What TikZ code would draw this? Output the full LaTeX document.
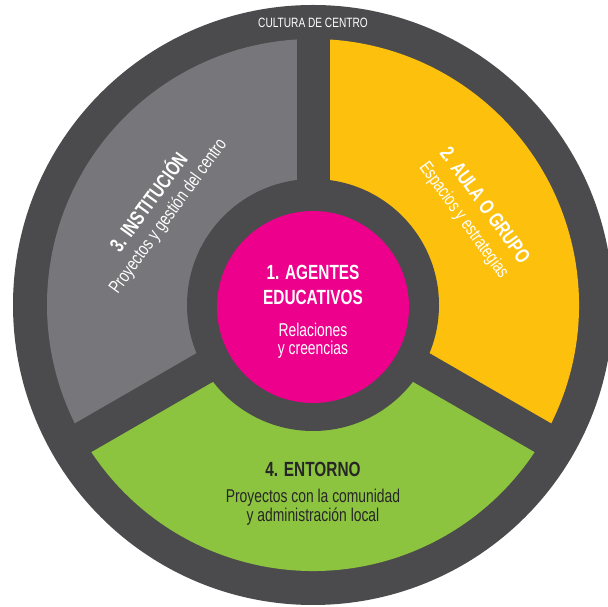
\documentclass[tikz,border=0pt]{standalone}
\usepackage{fontspec}
\setmainfont[FakeStretch=0.75]{Liberation Sans}
\definecolor{ringc}{HTML}{4B4B4D}
\definecolor{instc}{HTML}{77767A}
\definecolor{aulac}{HTML}{FDC10D}
\definecolor{entoc}{HTML}{8DC43F}
\definecolor{agenc}{HTML}{EC008C}
\definecolor{darktext}{HTML}{262626}
\tikzset{
  title/.style={inner sep=0pt, font=\bfseries\fontsize{20.5}{24}\selectfont},
  sub/.style={inner sep=0pt, font=\fontsize{18.5}{22}\selectfont},
  small/.style={inner sep=0pt, font=\fontsize{13.5}{15}\selectfont}
}
\begin{document}
\begin{tikzpicture}[x=1pt,y=1pt]
\useasboundingbox (0,0) rectangle (608,607);
\clip (0,0) rectangle (608,607);
\coordinate (C) at (313,302);
% outer ring
\fill[ringc] (C) circle (300);
% sectors
\fill[instc] (C) -- ++(90:266) arc (90:210:266) -- cycle;
\fill[aulac] (C) -- ++(-30:266) arc (-30:90:266) -- cycle;
\fill[entoc] (C) -- ++(210:266) arc (210:330:266) -- cycle;
% separators
\foreach \a in {90,210,330} \draw[ringc, line width=33pt] (C) -- ++(\a:285);
% hub
\fill[ringc] (C) circle (126);
\fill[agenc] (313,300) circle (96);
% top label
\node[small, white, anchor=base] (cult) at (313,579) {CULTURA DE CENTRO};
% centre
\node[title, white, anchor=base] (a1) at (313,327) {1. AGENTES};
\node[title, white, anchor=base] (a2) at (313,302) {EDUCATIVOS};
\node[sub, white, anchor=base] (a3) at (313,270) {Relaciones};
\node[sub, white, anchor=base] (a4) at (313,252) {y creencias};
% entorno
\node[title, darktext, anchor=base] (e1) at (313,130) {4. ENTORNO};
\node[sub, darktext, anchor=base] (e2) at (313,104) {Proyectos con la comunidad};
\node[sub, darktext, anchor=base] (e3) at (313,85) {y administración local};
% institucion
\begin{scope}[shift={(158,398)}, rotate=54, transform shape]
\node[title, white] (i1) at (0,13.5) {3. INSTITUCIÓN};
\node[sub, white] (i2) at (0,-13) {Proyectos y gestión del centro};
\end{scope}
% aula
\begin{scope}[shift={(474,394)}, rotate=-54, transform shape]
\node[title, white] (g1) at (0,14) {2. AULA O GRUPO};
\node[sub, white] (g2) at (0,-13) {Espacios y estrategias};
\end{scope}
\end{tikzpicture}
\end{document}
